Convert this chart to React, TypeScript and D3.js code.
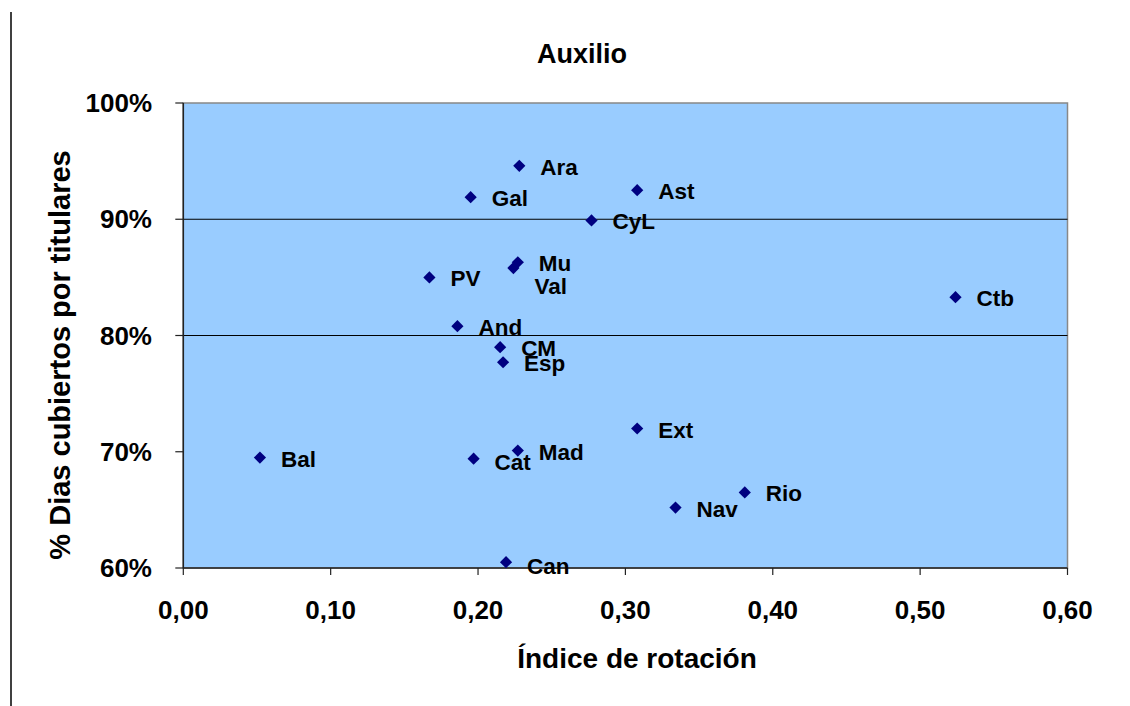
import React from "react";
import * as d3 from "d3";

const regions = ["Ara", "Gal", "Ast", "CyL", "Mu", "Val", "PV", "And", "CM", "Esp", "Ext", "Mad", "Cat", "Rio", "Nav", "Can", "Bal", "Ctb"];
const rotation = [0.228, 0.195, 0.308, 0.277, 0.227, 0.224, 0.167, 0.186, 0.215, 0.217, 0.308, 0.227, 0.197, 0.381, 0.334, 0.219, 0.052, 0.524];
const coverage = [0.946, 0.919, 0.925, 0.899, 0.863, 0.858, 0.850, 0.808, 0.790, 0.777, 0.720, 0.701, 0.694, 0.665, 0.652, 0.605, 0.695, 0.833];
const xTicks = [0, 0.1, 0.2, 0.3, 0.4, 0.5, 0.6];
const yTicks = [0.6, 0.7, 0.8, 0.9, 1.0];
const gridValues = [0.8, 0.9];
const title = "Auxilio";
const xTitle = "Índice de rotación";
const yTitle = "% Dias cubiertos por titulares";

const labelNudgeY: Record<string, number> = { Val: 17, Cat: 2, Can: 3 };

const W = 1130;
const H = 706;
const left = 183.3;
const right = 1067.5;
const top = 103;
const bottom = 568;
const font = "'Liberation Sans', Arial, sans-serif";

export default function App() {
  const x = d3.scaleLinear().domain([0, 0.6]).range([left, right]);
  const y = d3.scaleLinear().domain([0.6, 1]).range([bottom, top]);
  const fmtX = (v: number) => v.toFixed(2).replace(".", ",");
  const fmtY = (v: number) => `${Math.round(v * 100)}%`;
  const diamond = d3.symbol().type(d3.symbolDiamond2).size(95)() as string;

  return (
    <svg width={W} height={H} style={{ position: "absolute", left: 0, top: 0, background: "#fff" }} fontFamily={font}>
      <line x1={11} y1={12} x2={11} y2={706} stroke="#000" strokeWidth={1.5} />
      <text x={582} y={63} textAnchor="middle" fontSize={27} fontWeight="bold">{title}</text>
      <rect x={left} y={top} width={right - left} height={bottom - top} fill="#99CCFF" stroke="#888" strokeWidth={1.5} />
      {gridValues.map((v) => (
        <line key={v} x1={left} x2={right} y1={y(v)} y2={y(v)} stroke="#000" strokeWidth={1.2} />
      ))}
      <line x1={left} x2={left} y1={top} y2={bottom} stroke="#222" strokeWidth={1.5} />
      <line x1={left} x2={right} y1={bottom} y2={bottom} stroke="#222" strokeWidth={1.5} />
      {yTicks.map((v) => (
        <g key={v}>
          <line x1={left - 8} x2={left} y1={y(v)} y2={y(v)} stroke="#222" strokeWidth={1.2} />
          <text x={152} y={y(v)} dy="0.35em" textAnchor="end" fontSize={26} fontWeight="bold">{fmtY(v)}</text>
        </g>
      ))}
      {xTicks.map((v) => (
        <g key={v}>
          <line x1={x(v)} x2={x(v)} y1={bottom} y2={bottom + 7} stroke="#222" strokeWidth={1.2} />
          <text x={x(v)} y={619} textAnchor="middle" fontSize={26} fontWeight="bold">{fmtX(v)}</text>
        </g>
      ))}
      <text x={637} y={668} textAnchor="middle" fontSize={28} fontWeight="bold">{xTitle}</text>
      <text transform={`translate(70,355) rotate(-90)`} textAnchor="middle" fontSize={29} fontWeight="bold">{yTitle}</text>
      {regions.map((r, i) => {
        const px = x(rotation[i]);
        const py = y(coverage[i]);
        return (
          <g key={r}>
            <path d={diamond} transform={`translate(${px},${py})`} fill="#000080" />
            <text x={px + 21} y={py + 9 + (labelNudgeY[r] || 0)} fontSize={22.5} fontWeight="bold">{r}</text>
          </g>
        );
      })}
    </svg>
  );
}
